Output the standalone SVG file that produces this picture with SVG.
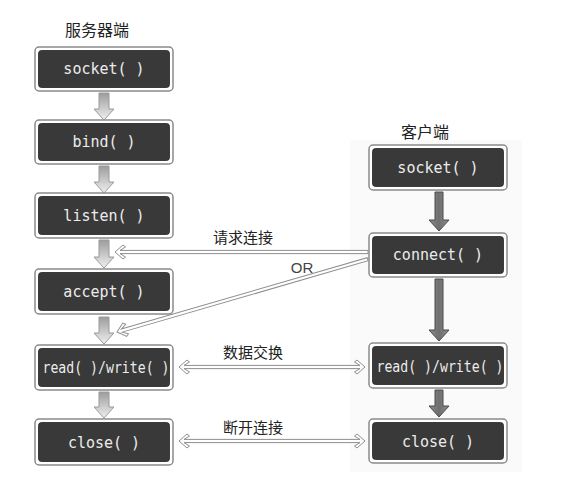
<svg xmlns="http://www.w3.org/2000/svg" width="575" height="479" viewBox="0 0 575 479">
<defs>
<style>
.bo{fill:#ffffff;stroke:#8a8a8a;stroke-width:1.5}
.bi{fill:#393939;stroke:#222;stroke-width:0.8}
.bt{font-family:"DejaVu Sans Mono","Liberation Mono",monospace;font-size:15px;fill:#ececec;text-anchor:middle}
.cj{font-family:"Noto Sans CJK SC",sans-serif;font-size:15px;fill:#222;text-anchor:middle}
.or{font-family:"Liberation Sans",Arial,sans-serif;font-size:15px;fill:#444;text-anchor:middle}
.sa{fill:url(#ga);stroke:#9a9a9a;stroke-width:1}
.ca{fill:url(#gc);stroke:#4a4a4a;stroke-width:1}
.dl{fill:#ffffff;stroke:#8f8f8f;stroke-width:1;stroke-linejoin:miter}
</style>
<linearGradient id="ga" x1="0" y1="0" x2="0" y2="1">
<stop offset="0" stop-color="#9c9c9c"/>
<stop offset="1" stop-color="#f0f0f0"/>
</linearGradient>
<linearGradient id="gc" x1="0" y1="0" x2="1" y2="0">
<stop offset="0" stop-color="#8a8a8a"/>
<stop offset="0.5" stop-color="#6f6f6f"/>
<stop offset="1" stop-color="#8f8f8f"/>
</linearGradient>
</defs>
<rect width="575" height="479" fill="#ffffff"/>
<rect x="350" y="140" width="172" height="332" fill="#fafafa"/>

<text class="cj" x="97" y="36" style="font-size:16px">服务器端</text>
<text class="cj" x="425" y="138" style="font-size:16px">客户端</text>

<g id="connectors">
<path class="sa" d="M99,93 H109 V109 H114 L104,120 L94,109 H99 Z"/>
<path class="sa" d="M99,166 H109 V182 H114 L104,193 L94,182 H99 Z"/>
<path class="sa" d="M99,240 H109 V257 H114 L104,268 L94,257 H99 Z"/>
<path class="sa" d="M99,317 H109 V333 H114 L104,344 L94,333 H99 Z"/>
<path class="sa" d="M99,392 H109 V407 H114 L104,418 L94,407 H99 Z"/>
<path class="ca" d="M435,192 H443 V220 H449 L439,231 L429,220 H435 Z"/>
<path class="ca" d="M435,279 H443 V330 H449 L439,341 L429,330 H435 Z"/>
<path class="ca" d="M435,390 H443 V406 H449 L439,417 L429,406 H435 Z"/>
<path class="dl" transform="translate(115,252)" d="M0,0 L8,-7 L10.5,-5 L5,-1.6 L253,-1.6 L253,1.6 L5,1.6 L10.5,5 L8,7 Z"/>
<path class="dl" transform="translate(117,332) rotate(-16.2)" d="M0,0 L8,-7 L10.5,-5 L5,-1.6 L261,-1.6 L261,1.6 L5,1.6 L10.5,5 L8,7 Z"/>
<path class="dl" transform="translate(179,367)" d="M0,0 L8,-7 L10.5,-5 L5,-1.6 L181,-1.6 L175.5,-5 L178,-7 L186,0 L178,7 L175.5,5 L181,1.6 L5,1.6 L10.5,5 L8,7 Z"/>
<path class="dl" transform="translate(179,441)" d="M0,0 L8,-7 L10.5,-5 L5,-1.6 L181,-1.6 L175.5,-5 L178,-7 L186,0 L178,7 L175.5,5 L181,1.6 L5,1.6 L10.5,5 L8,7 Z"/>
</g>

<text class="cj" x="243" y="243">请求连接</text>
<text class="or" x="302" y="273">OR</text>
<text class="cj" x="253" y="358">数据交换</text>
<text class="cj" x="253" y="433">断开连接</text>

<g id="s_socket"><rect class="bo" x="35" y="47" width="138" height="44" rx="4"/><rect class="bi" x="38.5" y="50.5" width="131" height="37" rx="3"/><text class="bt" x="104" y="74">socket( )</text></g>
<g id="s_bind"><rect class="bo" x="35" y="120" width="138" height="44" rx="4"/><rect class="bi" x="38.5" y="123.5" width="131" height="37" rx="3"/><text class="bt" x="104" y="147">bind( )</text></g>
<g id="s_listen"><rect class="bo" x="35" y="193" width="138" height="45" rx="4"/><rect class="bi" x="38.5" y="196.5" width="131" height="38" rx="3"/><text class="bt" x="104" y="221">listen( )</text></g>
<g id="s_accept"><rect class="bo" x="35" y="269" width="138" height="45" rx="4"/><rect class="bi" x="38.5" y="272.5" width="131" height="38" rx="3"/><text class="bt" x="104" y="297">accept( )</text></g>
<g id="s_rw"><rect class="bo" x="35" y="345" width="138" height="45" rx="4"/><rect class="bi" x="38.5" y="348.5" width="131" height="38" rx="3"/><text class="bt" x="106" y="373" textLength="127" lengthAdjust="spacingAndGlyphs">read( )/write( )</text></g>
<g id="s_close"><rect class="bo" x="35" y="419" width="138" height="46" rx="4"/><rect class="bi" x="38.5" y="422.5" width="131" height="39" rx="3"/><text class="bt" x="104" y="448">close( )</text></g>

<g id="c_socket"><rect class="bo" x="369" y="145" width="138" height="45" rx="4"/><rect class="bi" x="372.5" y="148.5" width="131" height="38" rx="3"/><text class="bt" x="438" y="173">socket( )</text></g>
<g id="c_connect"><rect class="bo" x="369" y="233" width="138" height="44" rx="4"/><rect class="bi" x="372.5" y="236.5" width="131" height="37" rx="3"/><text class="bt" x="438" y="260">connect( )</text></g>
<g id="c_rw"><rect class="bo" x="369" y="343" width="138" height="45" rx="4"/><rect class="bi" x="372.5" y="346.5" width="131" height="38" rx="3"/><text class="bt" x="440" y="372" textLength="127" lengthAdjust="spacingAndGlyphs">read( )/write( )</text></g>
<g id="c_close"><rect class="bo" x="369" y="419" width="138" height="44" rx="4"/><rect class="bi" x="372.5" y="422.5" width="131" height="37" rx="3"/><text class="bt" x="438" y="447">close( )</text></g>
</svg>
